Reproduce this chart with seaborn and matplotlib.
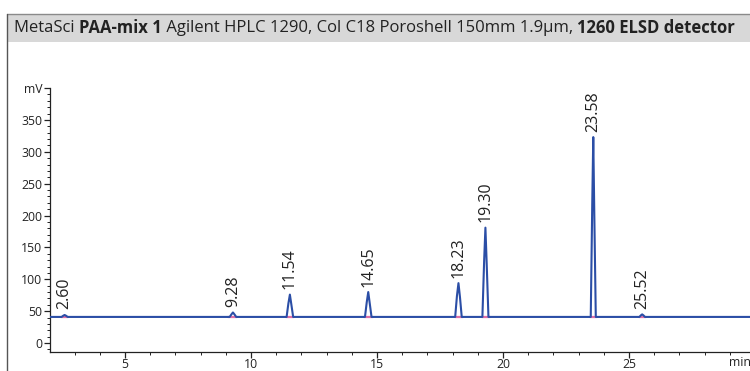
import matplotlib
matplotlib.use("Agg")
import matplotlib.pyplot as plt
import numpy as np
import pandas as pd
import seaborn as sns
from matplotlib.patches import Rectangle
from matplotlib.lines import Line2D
from matplotlib.ticker import MultipleLocator

# chromatogram trace (min, mV)
trace_time = [2.02, 2.48, 2.55, 2.60, 2.65, 2.72,
              9.15, 9.22, 9.28, 9.34, 9.41,
              11.41, 11.48, 11.54, 11.60, 11.67,
              14.52, 14.59, 14.65, 14.71, 14.78,
              18.10, 18.17, 18.23, 18.29, 18.36,
              19.18, 19.25, 19.30, 19.35, 19.42,
              23.48, 23.54, 23.58, 23.62, 23.68,
              25.41, 25.47, 25.52, 25.57, 25.63, 29.8]
trace_mv = [41, 41, 43, 44, 43, 41,
            41, 45, 48, 45, 41,
            41, 62, 76, 60, 41,
            41, 64, 80, 62, 41,
            41, 74, 94, 72, 41,
            41, 130, 181, 125, 41,
            41, 220, 323, 205, 41,
            41, 43.5, 45, 43.5, 41, 41]

# peak labels
peak_rt = [2.60, 9.28, 11.54, 14.65, 18.23, 19.30, 23.58, 25.52]
peak_top = [44, 48, 76, 80, 94, 181, 323, 45]
peak_lbl = ['2.60', '9.28', '11.54', '14.65', '18.23', '19.30', '23.58', '25.52']

# integration baselines (start, end)
int_start = [2.46, 9.10, 11.38, 14.50, 18.08, 19.15, 23.45, 25.40]
int_end = [2.74, 9.45, 11.72, 14.82, 18.40, 19.48, 23.72, 25.66]
int_level = 41

sns.set_theme(style="ticks")
plt.rcParams['font.family'] = ['Open Sans', 'DejaVu Sans']

df = pd.DataFrame({'time': trace_time, 'mv': trace_mv})

fig = plt.figure(figsize=(7.5, 3.71), dpi=100)

# frame with grey title band
fig.patches.append(Rectangle((7/750, 1 - 42/371), 1, 28/371, transform=fig.transFigure,
                             facecolor='#d8d8d8', edgecolor='none', zorder=0))
fig.lines.append(Line2D([7/750, 1], [1 - 14/371, 1 - 14/371], transform=fig.transFigure,
                        color='#8a8a8a', lw=1))
fig.lines.append(Line2D([7/750, 7/750], [0, 1 - 14/371], transform=fig.transFigure,
                        color='#555555', lw=1))

title_parts = [('MetaSci ', 'normal'), ('PAA-mix 1', 'bold'),
               (' Agilent HPLC 1290, Col C18 Poroshell 150mm 1.9µm, ', 'normal'),
               ('1260 ELSD detector', 'bold')]
renderer = fig.canvas.get_renderer()
xpos = 14/750
for s, w in title_parts:
    t = fig.text(xpos, 1 - 28/371, s, fontsize=12, fontweight=w, va='center', ha='left',
                 color='#222222')
    bb = t.get_window_extent(renderer=renderer)
    xpos += bb.width / fig.bbox.width

ax = fig.add_axes([50/750, 1 - 352/371, 1 - 50/750, (352 - 88)/371])
sns.lineplot(data=df, x='time', y='mv', color='#2b4ea6', lw=1.5, ax=ax, zorder=3)

for a, b in zip(int_start, int_end):
    ax.plot([a, b], [int_level, int_level], color='#e070a8', lw=1.6, zorder=2)

for rt, h, lbl in zip(peak_rt, peak_top, peak_lbl):
    ax.annotate(lbl, (rt, h), xytext=(0, 4), textcoords='offset points', rotation=90,
                ha='center', va='bottom', fontsize=11.5, color='#222222')

ax.set_xlim(2.02, 29.8)
ax.set_ylim(-14, 400)
ax.set_xticks([5, 10, 15, 20, 25])
ax.xaxis.set_minor_locator(MultipleLocator(1))
ax.set_yticks([0, 50, 100, 150, 200, 250, 300, 350, 400])
ax.set_yticklabels(['0', '50', '100', '150', '200', '250', '300', '350', 'mV'])
ax.yaxis.set_minor_locator(MultipleLocator(10))
ax.tick_params(axis='both', which='major', length=4, width=0.9, labelsize=8.8, pad=1.5,
               colors='#222222')
ax.tick_params(axis='x', which='major', labelsize=8.8, pad=0)
ax.tick_params(axis='both', which='minor', length=2, width=0.7, color='#222222')
ax.text(29.4, -0.015, 'min', transform=ax.get_xaxis_transform(), ha='center', va='top',
        fontsize=8.8, color='#222222')
ax.set_xlabel('')
ax.set_ylabel('')
ax.patch.set_alpha(0)
for s in ['top', 'right']:
    ax.spines[s].set_visible(False)
for s in ['left', 'bottom']:
    ax.spines[s].set_linewidth(0.9)
    ax.spines[s].set_color('#222222')

fig.savefig('out.png', dpi=100)
